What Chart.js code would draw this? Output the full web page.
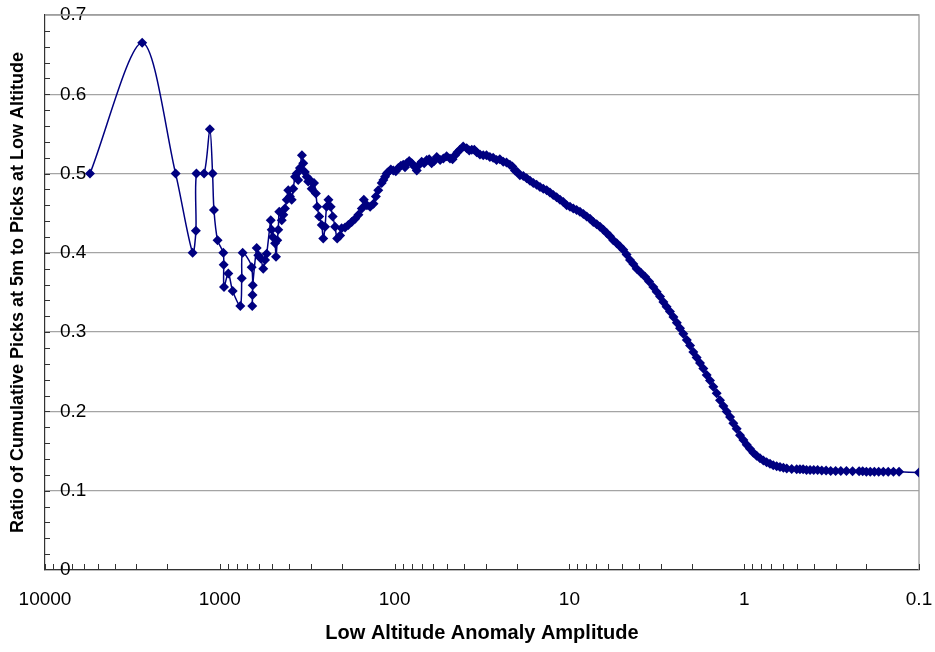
<!DOCTYPE html>
<html>
<head>
<meta charset="utf-8">
<script src="https://cdn.jsdelivr.net/npm/chart.js@4.4.0/dist/chart.umd.min.js"></script>
<style>
html, body { margin: 0; padding: 0; background: #fff; }
#wrap { width: 935px; height: 652px; }
</style>
</head>
<body>
<div id="wrap"><canvas id="chart" width="935" height="652"></canvas></div>
<script>
// amplitude (x, log axis, reversed) and ratio (y)
const amplitude = [
  5530, 2780, 1790, 1430, 1370, 1360, 1230, 1140, 1100, 1080, 1030, 955, 950, 946, 894, 844, 763, 749, 740,
  657, 652, 650, 648, 615, 602, 583, 564, 551, 539, 511, 505, 498, 483, 477, 469, 463, 457, 442, 433, 424,
  414, 406, 397, 388, 380, 371, 363, 356, 348, 339, 333, 326, 318, 312, 305, 298, 289, 282, 277, 270, 261,
  256, 250, 245, 239, 232, 226, 219, 213, 205, 201, 192, 184, 176, 168, 161, 154, 150, 144, 138, 132, 128,
  124, 118.5, 115.9, 113.4, 111.0, 108.6, 105.1, 101.7, 98.4, 95.2, 92.1, 89.2, 87.2, 85.3, 82.5, 79.8,
  77.2, 74.7, 72.3, 70.0, 67.7, 65.5, 63.4, 61.4, 59.4, 57.4, 54.9, 52.6, 50.4, 48.2, 46.6, 45.1, 43.7,
  42.3, 40.5, 38.7, 37.4, 36.2, 35.0, 33.9, 32.5, 31.1, 29.8, 28.5, 27.3, 26.1, 25.0, 23.9, 22.9, 21.9,
  21.2, 20.5, 19.85, 19.2, 18.35, 17.55, 16.8, 16.09, 15.4, 14.73, 14.1, 13.49, 12.92, 12.37, 11.83, 11.32,
  10.83, 10.36, 9.92, 9.50, 9.09, 8.70, 8.32, 7.96, 7.62, 7.30, 6.98, 6.68, 6.39, 6.12, 5.86, 5.61, 5.36,
  5.13, 4.92, 4.71, 4.50, 4.31, 4.12, 3.90, 3.69, 3.50, 3.31, 3.17, 3.03, 2.90, 2.78, 2.66, 2.54, 2.43,
  2.33, 2.23, 2.13, 2.04, 1.955, 1.871, 1.790, 1.713, 1.639, 1.569, 1.502, 1.437, 1.375, 1.316, 1.259,
  1.205, 1.154, 1.104, 1.057, 1.011, 0.968, 0.927, 0.887, 0.849, 0.812, 0.777, 0.744, 0.712, 0.682,
  0.652, 0.624, 0.597, 0.571, 0.535, 0.501, 0.48, 0.46, 0.44, 0.42, 0.40, 0.38, 0.36, 0.34, 0.32, 0.30,
  0.28, 0.26, 0.24, 0.22, 0.21, 0.20, 0.19, 0.18, 0.17, 0.16, 0.15, 0.14, 0.13, 0.1
];
const ratio = [
  0.5, 0.665, 0.5, 0.4, 0.428, 0.5, 0.5, 0.556, 0.5, 0.454, 0.416, 0.4, 0.385, 0.357, 0.374, 0.352, 0.333, 0.368, 0.4,
  0.382, 0.333, 0.347, 0.359, 0.406, 0.397, 0.393, 0.380, 0.391, 0.399, 0.441, 0.429, 0.420, 0.412, 0.395, 0.416, 0.429, 0.452, 0.441, 0.448, 0.456,
  0.467, 0.479, 0.471, 0.467, 0.481, 0.496, 0.500, 0.492, 0.507, 0.523, 0.513, 0.502, 0.496, 0.490, 0.492, 0.481, 0.488, 0.475, 0.458, 0.446, 0.435,
  0.418, 0.433, 0.458, 0.467, 0.458, 0.446, 0.433, 0.418, 0.422, 0.431, 0.432, 0.435, 0.439, 0.443, 0.448, 0.456, 0.467, 0.460, 0.458, 0.462, 0.471,
  0.479, 0.488, 0.492, 0.496, 0.500, 0.502, 0.505, 0.504, 0.503, 0.507, 0.510, 0.511, 0.508, 0.513, 0.516, 0.513,
  0.509, 0.504, 0.511, 0.515, 0.513, 0.517, 0.518, 0.513, 0.516, 0.521, 0.517, 0.519, 0.522, 0.519, 0.518, 0.523, 0.527,
  0.530, 0.534, 0.532, 0.529, 0.530, 0.530, 0.527, 0.524, 0.523, 0.523, 0.521, 0.520, 0.517, 0.518, 0.515, 0.514, 0.511,
  0.509, 0.504, 0.502, 0.498, 0.497, 0.494, 0.491, 0.488, 0.486, 0.483, 0.481, 0.479, 0.476, 0.473, 0.470, 0.467,
  0.464, 0.460, 0.458, 0.456, 0.454, 0.452, 0.449, 0.446, 0.443, 0.439, 0.436, 0.433, 0.429, 0.425, 0.421, 0.416, 0.412,
  0.408, 0.404, 0.398, 0.391, 0.386, 0.380, 0.375, 0.370, 0.364, 0.357, 0.351, 0.345, 0.338, 0.332, 0.326, 0.319, 0.312,
  0.305, 0.298, 0.290, 0.283, 0.275, 0.268, 0.261, 0.254, 0.246, 0.239, 0.231, 0.223, 0.214, 0.207, 0.200,
  0.193, 0.185, 0.178, 0.170, 0.164, 0.158, 0.153, 0.148, 0.144, 0.141, 0.138, 0.136, 0.134, 0.132,
  0.131, 0.130, 0.129, 0.128, 0.1275, 0.127, 0.127, 0.127, 0.126, 0.126, 0.126, 0.126, 0.1255, 0.1255, 0.125, 0.125,
  0.125, 0.125, 0.1245, 0.1245, 0.1245, 0.124, 0.124, 0.124, 0.124, 0.124, 0.124, 0.1238, 0.1238, 0.123
];

const xTickValues = [10000, 1000, 100, 10, 1, 0.1];
const xTickLabels = ['10000', '1000', '100', '10', '1', '0.1'];

const points = amplitude.map((a, i) => ({ x: a, y: ratio[i] }));

const FONT = 'Arial, "Liberation Sans", Helvetica, sans-serif';

// plot frame (top/right) and the small inside tick marks
const frameTicks = {
    id: 'frameTicks',
    beforeDatasetsDraw(chart) {
        const ctx = chart.ctx;
        const a = chart.chartArea;
        const x = chart.scales.x;
        const y = chart.scales.y;
        ctx.save();
        ctx.strokeStyle = '#9c9c9c';
        ctx.lineWidth = 1.3;
        ctx.beginPath();
        ctx.moveTo(a.left, a.top);
        ctx.lineTo(a.right, a.top);
        ctx.lineTo(a.right, a.bottom);
        ctx.stroke();

        ctx.strokeStyle = '#333';
        ctx.lineWidth = 1;
        ctx.beginPath();
        x.ticks.forEach(t => {
            const e = Math.floor(Math.log10(t.value) + 1e-9);
            const s = t.value / Math.pow(10, e);
            if (Math.abs(s - Math.round(s)) > 1e-6) return;
            const px = Math.round(x.getPixelForValue(t.value)) + 0.5;
            ctx.moveTo(px, a.bottom);
            ctx.lineTo(px, a.bottom - 6);
        });
        for (let v = 0.02; v < 0.7; v += 0.02) {
            const py = Math.round(y.getPixelForValue(v)) + 0.5;
            ctx.moveTo(a.left, py);
            ctx.lineTo(a.left + 5, py);
        }
        ctx.stroke();
        ctx.restore();
    }
};

const ctx = document.getElementById('chart').getContext('2d');

new Chart(ctx, {
    type: 'line',
    data: {
        datasets: [{
            label: 'Ratio',
            data: points,
            borderColor: '#000080',
            backgroundColor: '#000080',
            borderWidth: 1.5,
            pointStyle: 'rectRot',
            pointRadius: 5,
            pointBorderWidth: 0,
            tension: 0.3,
            fill: false
        }]
    },
    options: {
        responsive: false,
        animation: false,
        layout: { padding: { top: 15, right: 16, left: 0, bottom: 0 } },
        plugins: {
            legend: { display: false },
            tooltip: { enabled: false }
        },
        scales: {
            x: {
                type: 'logarithmic',
                reverse: true,
                min: 0.1,
                max: 10000,
                grid: { display: false, drawTicks: false },
                border: { display: true, color: '#333', width: 1.2 },
                ticks: {
                    autoSkip: false,
                    maxRotation: 0,
                    padding: 18,
                    color: '#000',
                    font: { family: FONT, size: 19 },
                    callback: (v) => {
                        const i = xTickValues.findIndex(t => Math.abs(t - v) / t < 1e-6);
                        return i >= 0 ? xTickLabels[i] : '';
                    }
                },
                title: {
                    display: true,
                    text: 'Low Altitude Anomaly Amplitude',
                    color: '#000',
                    font: { family: FONT, size: 20, weight: 'bold' },
                    padding: { top: 0, bottom: 7 }
                },
                afterFit: (scale) => {
                    scale.height = 82;
                    scale.paddingLeft = 0;
                    scale.paddingRight = 0;
                }
            },
            y: {
                min: 0,
                max: 0.7,
                grid: { color: '#a4a4a4', lineWidth: 1.3, drawTicks: false },
                border: { display: true, color: '#333', width: 1.2 },
                ticks: {
                    stepSize: 0.1,
                    mirror: true,
                    padding: 15,
                    color: '#000',
                    font: { family: FONT, size: 19 },
                    callback: (v) => (v === 0 ? '0' : v.toFixed(1))
                },
                title: {
                    display: true,
                    text: 'Ratio of Cumulative Picks at 5m to Picks at Low Altitude',
                    color: '#000',
                    font: { family: FONT, size: 18, weight: 'bold' },
                    padding: { top: 7, bottom: 0 }
                },
                afterFit: (scale) => {
                    scale.width = 45;
                    scale.paddingTop = 0;
                    scale.paddingBottom = 0;
                }
            }
        }
    },
    plugins: [frameTicks]
});
</script>
</body>
</html>
